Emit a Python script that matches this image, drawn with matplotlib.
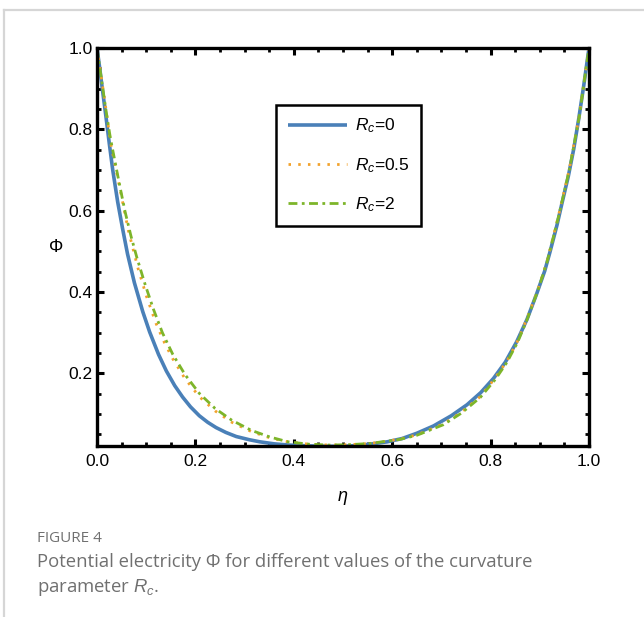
import matplotlib
matplotlib.use("Agg")
import matplotlib.pyplot as plt
from matplotlib.lines import Line2D
from matplotlib.ticker import MultipleLocator

plt.rcParams['font.family'] = ['Liberation Sans', 'DejaVu Sans']
plt.rcParams['mathtext.fontset'] = 'custom'
plt.rcParams['mathtext.it'] = 'Liberation Sans:italic'
plt.rcParams['mathtext.rm'] = 'Liberation Sans'

# ---- data ----
eta_rc0 = [0.0, 0.005, 0.011, 0.018, 0.025, 0.032, 0.042, 0.052, 0.062, 0.076,
           0.093, 0.107, 0.125, 0.141, 0.158, 0.174, 0.19, 0.208, 0.225, 0.242,
           0.262, 0.283, 0.31, 0.331, 0.36, 0.39, 0.43, 0.47, 0.5, 0.53, 0.56,
           0.59, 0.62, 0.65, 0.684, 0.72, 0.752, 0.78, 0.806, 0.83, 0.853, 0.874,
           0.894, 0.91, 0.921, 0.935, 0.945, 0.958, 0.969, 0.979, 0.989, 1.0]
phi_rc0 = [1.0, 0.955, 0.898, 0.833, 0.765, 0.700, 0.622, 0.556, 0.494, 0.423,
           0.352, 0.302, 0.247, 0.206, 0.170, 0.142, 0.118, 0.096, 0.080, 0.067,
           0.055, 0.045, 0.037, 0.032, 0.027, 0.024, 0.022, 0.021, 0.021, 0.023, 0.027,
           0.032, 0.040, 0.053, 0.071, 0.096, 0.123, 0.153, 0.188, 0.228, 0.278, 0.333,
           0.397, 0.452, 0.500, 0.565, 0.618, 0.685, 0.752, 0.825, 0.905, 1.0]

eta_rc05 = [0.0, 0.015, 0.028, 0.049, 0.064, 0.083, 0.101, 0.120, 0.137, 0.154,
            0.179, 0.208, 0.240, 0.274, 0.314, 0.351, 0.388, 0.432, 0.473, 0.514,
            0.555, 0.592, 0.616, 0.65, 0.704, 0.74, 0.779, 0.81, 0.833, 0.855,
            0.874, 0.895, 0.915, 0.938, 0.96, 0.98, 1.0]
phi_rc05 = [1.0, 0.877, 0.765, 0.640, 0.550, 0.460, 0.388, 0.323, 0.276, 0.236,
            0.187, 0.143, 0.108, 0.080, 0.057, 0.042, 0.032, 0.026, 0.024, 0.025,
            0.028, 0.034, 0.039, 0.049, 0.076, 0.104, 0.143, 0.190, 0.230, 0.280,
            0.335, 0.402, 0.477, 0.588, 0.702, 0.832, 1.0]

eta_rc2 = [0.0, 0.011, 0.019, 0.027, 0.037, 0.047, 0.057, 0.069, 0.081, 0.098,
           0.115, 0.133, 0.154, 0.179, 0.208, 0.240, 0.274, 0.314, 0.351, 0.388,
           0.432, 0.473, 0.514, 0.555, 0.592, 0.616, 0.65, 0.704, 0.74, 0.779,
           0.81, 0.833, 0.855, 0.874, 0.895, 0.915, 0.938, 0.96, 0.98, 1.0]
phi_rc2 = [1.0, 0.907, 0.841, 0.780, 0.718, 0.657, 0.598, 0.538, 0.485, 0.418,
           0.357, 0.300, 0.247, 0.197, 0.151, 0.114, 0.085, 0.060, 0.044, 0.032,
           0.026, 0.024, 0.025, 0.028, 0.034, 0.038, 0.048, 0.074, 0.102, 0.141,
           0.186, 0.227, 0.277, 0.332, 0.400, 0.475, 0.585, 0.700, 0.830, 1.0]

labels = [r'$R_c$=0', r'$R_c$=0.5', r'$R_c$=2']
x_ticks = [0.0, 0.2, 0.4, 0.6, 0.8, 1.0]
y_ticks = [0.2, 0.4, 0.6, 0.8, 1.0]

# ---- figure ----
W, H = 644, 617
fig = plt.figure(figsize=(W / 100, H / 100), dpi=100)
fig.patch.set_facecolor('white')

# page frame lines
fig.add_artist(Line2D([4 / W, 1.0], [1 - 10 / H, 1 - 10 / H], color='#d6d6d6', lw=1.6))
fig.add_artist(Line2D([4 / W, 4 / W], [0.0, 1 - 10 / H], color='#d6d6d6', lw=1.6))

left, right, top, bottom = 97, 589, 48, 446
ax = fig.add_axes([left / W, 1 - bottom / H, (right - left) / W, (bottom - top) / H])

ax.plot(eta_rc0, phi_rc0, color='#4a80b8', lw=2.6, label=labels[0],
        solid_capstyle='butt', solid_joinstyle='round')
ax.plot(eta_rc05, phi_rc05, color='#f2a22c', lw=2.0, dashes=(0.9, 2.6), label=labels[1])
ax.plot(eta_rc2, phi_rc2, color='#7db52a', lw=2.0, dashes=(3.2, 1.6, 1.0, 1.6), label=labels[2])

ax.set_xlim(0.0, 1.0)
ax.set_ylim(0.0217, 1.0)
ax.set_xticks(x_ticks)
ax.set_xticklabels(['%.1f' % v for v in x_ticks])
ax.set_yticks(y_ticks)
ax.set_yticklabels(['%.1f' % v for v in y_ticks])
ax.xaxis.set_minor_locator(MultipleLocator(0.05))
ax.yaxis.set_minor_locator(MultipleLocator(0.05))

for s in ax.spines.values():
    s.set_linewidth(2.4)
    s.set_color('black')
ax.tick_params(which='both', direction='in', top=True, right=True, color='black')
ax.tick_params(which='major', length=5, width=2.2, labelsize=12.5, pad=3)
ax.tick_params(which='minor', length=3, width=2.0)
ax.tick_params(axis='x', which='major', pad=6)

ax.set_xlabel(r'$\eta$', fontsize=13, labelpad=14)
ax.set_ylabel('Φ', fontsize=13, rotation=0, labelpad=9, va='center')

leg = ax.legend(loc='upper left', bbox_to_anchor=(0.364, 0.857), fontsize=12.5,
                frameon=True, fancybox=False, edgecolor='black', framealpha=1,
                handlelength=3.4, handletextpad=0.45, labelspacing=1.18,
                borderpad=0.68, borderaxespad=0.0)
leg.get_frame().set_linewidth(1.8)

# caption
fig.text(37 / W, 1 - 539 / H, 'FIGURE 4', fontsize=11, color='#707070',
         family=['Open Sans', 'DejaVu Sans'], va='center', ha='left')
fig.text(37 / W, 1 - 562 / H, 'Potential electricity Φ for different values of the curvature',
         fontsize=13.3, color='#707070', family=['Open Sans', 'DejaVu Sans'],
         va='center', ha='left')
fig.text(37 / W, 1 - 587 / H, r'parameter $R_{c}$.',
         fontsize=13.3, color='#707070', family=['Open Sans', 'DejaVu Sans'],
         va='center', ha='left')

fig.savefig('out.png', dpi=100)
